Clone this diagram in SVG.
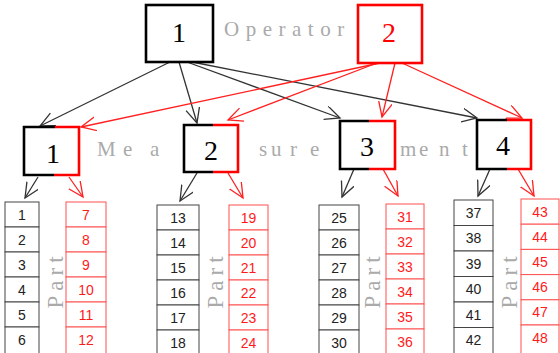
<svg xmlns="http://www.w3.org/2000/svg" width="560" height="353" viewBox="0 0 560 353">
<defs>
<style>
.bg{fill:#fff}
.big{font-family:"Liberation Serif",serif;font-size:28px;text-anchor:middle}
.lbl{font-family:"Liberation Serif",serif;font-size:21px;fill:#aaaaaa}
.pt{font-family:"Liberation Serif",serif;font-size:23px;fill:#aaaaaa;text-anchor:middle;letter-spacing:5px}
.num{font-family:"Liberation Sans",Arial,sans-serif;font-size:14px;text-anchor:middle}
.cb{fill:#fff;stroke:#444;stroke-width:1}
.cr{fill:#fff;stroke:#ff5050;stroke-width:1}
.tb{fill:#222}
.tr{fill:#ff1a1a}
.ab{stroke:#333;stroke-width:1.3;fill:none;marker-end:url(#mb)}
.ar{stroke:#ff2020;stroke-width:1.3;fill:none;marker-end:url(#mr)}
.kb{stroke:#000;stroke-width:2.6;fill:none}
.kr{stroke:#ff0000;stroke-width:2.6;fill:none}
</style>
<marker id="mb" markerUnits="userSpaceOnUse" markerWidth="18" markerHeight="16" refX="15" refY="7" orient="auto"><path d="M0,0 L15,7 L0,14" fill="none" stroke="#333" stroke-width="1.3"/></marker>
<marker id="mr" markerUnits="userSpaceOnUse" markerWidth="18" markerHeight="16" refX="15" refY="7" orient="auto"><path d="M0,0 L15,7 L0,14" fill="none" stroke="#ff2020" stroke-width="1.3"/></marker>
</defs>
<rect class="bg" x="0" y="0" width="560" height="353"/>

<g id="connectors">
<line class="ab" x1="170" y1="62" x2="40" y2="126"/>
<line class="ab" x1="179" y1="62" x2="197" y2="123"/>
<line class="ab" x1="187" y1="62" x2="340" y2="118"/>
<line class="ab" x1="192" y1="62" x2="477" y2="118"/>
<line class="ar" x1="380" y1="63" x2="81" y2="127"/>
<line class="ar" x1="377" y1="63" x2="228" y2="120"/>
<line class="ar" x1="395" y1="63" x2="382" y2="117"/>
<line class="ar" x1="402" y1="63" x2="522" y2="118"/>
<line class="ab" x1="38" y1="177" x2="25" y2="198"/>
<line class="ar" x1="69" y1="177" x2="83" y2="197"/>
<line class="ab" x1="197" y1="173" x2="180" y2="201"/>
<line class="ar" x1="228" y1="173" x2="243" y2="198"/>
<line class="ab" x1="354" y1="169" x2="342" y2="197"/>
<line class="ar" x1="383" y1="169" x2="398" y2="196"/>
<line class="ab" x1="490" y1="169" x2="478" y2="196"/>
<line class="ar" x1="518" y1="169" x2="534" y2="196"/>
</g>

<g id="op1"><rect x="146" y="5" width="67" height="57" fill="#fff" stroke="#000" stroke-width="2.6"/><text class="big" x="179" y="42" fill="#000">1</text></g>
<g id="op2"><rect x="358" y="5" width="64" height="58" fill="#fff" stroke="#ff0000" stroke-width="2.6"/><text class="big" x="389" y="42" fill="#ff0000">2</text></g>
<text class="lbl" x="224" y="36" letter-spacing="6.5">Operator</text>

<g id="m1"><path class="kb" d="M55,127 H24 V175 H54"/><path class="kr" d="M55,127 H79 V175 H54"/><text class="big" x="53" y="163" fill="#000">1</text></g>
<g id="m2"><path class="kb" d="M213,125 H184 V172 H213"/><path class="kr" d="M213,125 H238 V172 H213"/><text class="big" x="211" y="160" fill="#000">2</text></g>
<g id="m3"><path class="kb" d="M369,121 H340 V169 H369"/><path class="kr" d="M369,121 H395 V169 H369"/><text class="big" x="367" y="156" fill="#000">3</text></g>
<g id="m4"><path class="kb" d="M507,120 H477 V169 H507"/><path class="kr" d="M507,120 H531 V169 H507"/><text class="big" x="503" y="155" fill="#000">4</text></g>
<text class="lbl" x="97 123 150" y="156">Mea</text>
<text class="lbl" x="259 271 290 310" y="156">sure</text>
<text class="lbl" x="400 419 439 462" y="156">ment</text>

<text class="pt" transform="translate(63,280) rotate(-90)">Part</text>
<text class="pt" transform="translate(223,280) rotate(-90)">Part</text>
<text class="pt" transform="translate(380,280) rotate(-90)">Part</text>
<text class="pt" transform="translate(517,280) rotate(-90)">Part</text>

<g id="p1b">
<rect class="cb" x="5" y="202" width="34" height="25"/><text class="num tb" x="22" y="219.5">1</text>
<rect class="cb" x="5" y="227" width="34" height="25"/><text class="num tb" x="22" y="244.5">2</text>
<rect class="cb" x="5" y="252" width="34" height="25"/><text class="num tb" x="22" y="269.5">3</text>
<rect class="cb" x="5" y="277" width="34" height="25"/><text class="num tb" x="22" y="294.5">4</text>
<rect class="cb" x="5" y="302" width="34" height="25"/><text class="num tb" x="22" y="319.5">5</text>
<rect class="cb" x="5" y="327" width="34" height="30"/><text class="num tb" x="22" y="344.5">6</text>
</g>
<g id="p1r">
<rect class="cr" x="66" y="202" width="40" height="25"/><text class="num tr" x="86" y="219.5">7</text>
<rect class="cr" x="66" y="227" width="40" height="25"/><text class="num tr" x="86" y="244.5">8</text>
<rect class="cr" x="66" y="252" width="40" height="25"/><text class="num tr" x="86" y="269.5">9</text>
<rect class="cr" x="66" y="277" width="40" height="25"/><text class="num tr" x="86" y="294.5">10</text>
<rect class="cr" x="66" y="302" width="40" height="25"/><text class="num tr" x="86" y="319.5">11</text>
<rect class="cr" x="66" y="327" width="40" height="30"/><text class="num tr" x="86" y="344.5">12</text>
</g>
<g id="p2b">
<rect class="cb" x="157" y="205" width="42" height="25"/><text class="num tb" x="178" y="222.5">13</text>
<rect class="cb" x="157" y="230" width="42" height="25"/><text class="num tb" x="178" y="247.5">14</text>
<rect class="cb" x="157" y="255" width="42" height="25"/><text class="num tb" x="178" y="272.5">15</text>
<rect class="cb" x="157" y="280" width="42" height="25"/><text class="num tb" x="178" y="297.5">16</text>
<rect class="cb" x="157" y="305" width="42" height="25"/><text class="num tb" x="178" y="322.5">17</text>
<rect class="cb" x="157" y="330" width="42" height="30"/><text class="num tb" x="178" y="347.5">18</text>
</g>
<g id="p2r">
<rect class="cr" x="229" y="205" width="39" height="25"/><text class="num tr" x="248.5" y="222.5">19</text>
<rect class="cr" x="229" y="230" width="39" height="25"/><text class="num tr" x="248.5" y="247.5">20</text>
<rect class="cr" x="229" y="255" width="39" height="25"/><text class="num tr" x="248.5" y="272.5">21</text>
<rect class="cr" x="229" y="280" width="39" height="25"/><text class="num tr" x="248.5" y="297.5">22</text>
<rect class="cr" x="229" y="305" width="39" height="25"/><text class="num tr" x="248.5" y="322.5">23</text>
<rect class="cr" x="229" y="330" width="39" height="30"/><text class="num tr" x="248.5" y="347.5">24</text>
</g>
<g id="p3b">
<rect class="cb" x="319" y="205" width="40" height="25"/><text class="num tb" x="339" y="222.5">25</text>
<rect class="cb" x="319" y="230" width="40" height="25"/><text class="num tb" x="339" y="247.5">26</text>
<rect class="cb" x="319" y="255" width="40" height="25"/><text class="num tb" x="339" y="272.5">27</text>
<rect class="cb" x="319" y="280" width="40" height="25"/><text class="num tb" x="339" y="297.5">28</text>
<rect class="cb" x="319" y="305" width="40" height="25"/><text class="num tb" x="339" y="322.5">29</text>
<rect class="cb" x="319" y="330" width="40" height="30"/><text class="num tb" x="339" y="347.5">30</text>
</g>
<g id="p3r">
<rect class="cr" x="386" y="204" width="38" height="25"/><text class="num tr" x="405" y="221.5">31</text>
<rect class="cr" x="386" y="229" width="38" height="25"/><text class="num tr" x="405" y="246.5">32</text>
<rect class="cr" x="386" y="254" width="38" height="25"/><text class="num tr" x="405" y="271.5">33</text>
<rect class="cr" x="386" y="279" width="38" height="25"/><text class="num tr" x="405" y="296.5">34</text>
<rect class="cr" x="386" y="304" width="38" height="25"/><text class="num tr" x="405" y="321.5">35</text>
<rect class="cr" x="386" y="329" width="38" height="30"/><text class="num tr" x="405" y="346.5">36</text>
</g>
<g id="p4b">
<rect class="cb" x="454" y="200" width="39" height="25.5"/><text class="num tb" x="473.5" y="217.5">37</text>
<rect class="cb" x="454" y="225.5" width="39" height="25.5"/><text class="num tb" x="473.5" y="243">38</text>
<rect class="cb" x="454" y="251" width="39" height="25.5"/><text class="num tb" x="473.5" y="268.5">39</text>
<rect class="cb" x="454" y="276.5" width="39" height="25.5"/><text class="num tb" x="473.5" y="294">40</text>
<rect class="cb" x="454" y="302" width="39" height="25.5"/><text class="num tb" x="473.5" y="319.5">41</text>
<rect class="cb" x="454" y="327.5" width="39" height="30"/><text class="num tb" x="473.5" y="345">42</text>
</g>
<g id="p4r">
<rect class="cr" x="521" y="199" width="38" height="25.2"/><text class="num tr" x="540" y="216.5">43</text>
<rect class="cr" x="521" y="224.2" width="38" height="25.2"/><text class="num tr" x="540" y="241.5">44</text>
<rect class="cr" x="521" y="249.4" width="38" height="25.2"/><text class="num tr" x="540" y="266.5">45</text>
<rect class="cr" x="521" y="274.6" width="38" height="25.2"/><text class="num tr" x="540" y="292">46</text>
<rect class="cr" x="521" y="299.8" width="38" height="25.2"/><text class="num tr" x="540" y="317">47</text>
<rect class="cr" x="521" y="325" width="38" height="30"/><text class="num tr" x="540" y="342.5">48</text>
</g>
</svg>
